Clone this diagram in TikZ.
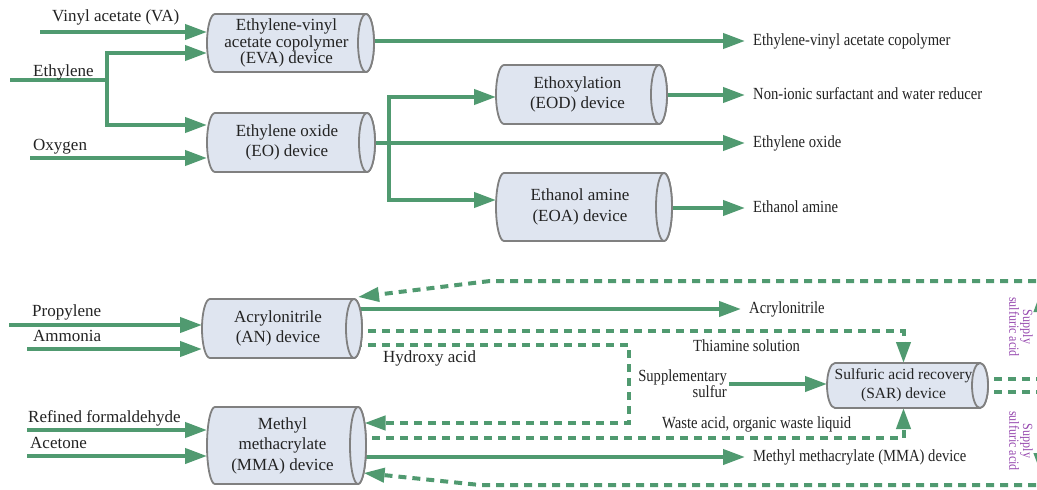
\documentclass[tikz,border=0pt]{standalone}
\usepackage{fontspec}
\setmainfont{Liberation Serif}
\newfontfamily\plainserif{Liberation Serif}
\newfontfamily\narrowserif[FakeStretch=0.86]{Liberation Serif}
\usetikzlibrary{arrows.meta}

\definecolor{flowgreen}{RGB}{80,154,112}
\definecolor{drumfill}{RGB}{223,229,240}
\definecolor{drumedge}{RGB}{128,128,128}
\definecolor{supplyviolet}{RGB}{150,72,175}
\definecolor{ink}{RGB}{35,35,35}

\pgfdeclarelayer{paper}
\pgfdeclarelayer{pipes}
\pgfdeclarelayer{drums}
\pgfsetlayers{paper,pipes,drums,main}

\tikzset{
  pipe/.style={draw=flowgreen, line width=4pt},
  flow/.style={pipe, -{Triangle[length=22pt,width=15pt]}},
  dpipe/.style={pipe, dash pattern=on 8pt off 6pt},
  dflow/.style={dpipe, -{Triangle[length=21pt,width=14pt]}},
  drumline/.style={draw=drumedge, fill=drumfill, line width=1.8pt},
  device/.style={inner sep=0pt, outer sep=0pt, align=center, text=ink,
    font=\plainserif\fontsize{17}{20.5}\selectfont},
  inlbl/.style={anchor=west, inner sep=0pt, text=ink,
    font=\plainserif\fontsize{17}{20}\selectfont, text height=11.5pt, text depth=3.5pt},
  outlbl/.style={anchor=west, inner xsep=8pt, inner ysep=0pt, text=ink,
    font=\narrowserif\fontsize{17}{20}\selectfont, text height=11.5pt, text depth=3.5pt},
  note/.style={inner sep=0pt, text=ink, font=\narrowserif\fontsize{17}{16}\selectfont},
  supply/.style={rotate=-90, align=center, inner sep=0pt, text=supplyviolet,
    font=\narrowserif\fontsize{14}{12}\selectfont},
}

% horizontal drum around a device node: #1 node name, #2 half height
\newcommand\drum[2]{%
  \begin{pgfonlayer}{drums}
    \draw[drumline] (#1.north east) -- ([xshift=8pt]#1.north west)
      arc[start angle=270, end angle=90, x radius=8, y radius=#2]
      -- (#1.south east)
      arc[start angle=90, end angle=-90, x radius=8, y radius=#2] -- cycle;
    \draw[drumline] (#1.east) ellipse[x radius=8, y radius=#2];
  \end{pgfonlayer}}

\begin{document}
\begin{tikzpicture}[x=1pt,y=-1pt]
\useasboundingbox (0,0) rectangle (1037,490);
\begin{pgfonlayer}{paper}
  \fill[white] (0,0) rectangle (1037,490);
\end{pgfonlayer}

% ---------- devices ----------
\node[device, minimum width=159, minimum height=58, font=\plainserif\fontsize{17}{16.5}\selectfont]
  (eva) at (286.5,43) {Ethylene-vinyl\\acetate copolymer\\(EVA) device};
\node[device, minimum width=160, minimum height=59] (eo) at (287,142.5) {Ethylene oxide\\(EO) device};
\node[device, minimum width=163, minimum height=59] (eod) at (577.5,94.5) {Ethoxylation\\(EOD) device};
\node[device, minimum width=168, minimum height=68] (eoa) at (580,207) {Ethanol amine\\(EOA) device};
\node[device, minimum width=152, minimum height=59] (an) at (278,328.5) {Acrylonitrile\\(AN) device};
\node[device, minimum width=151, minimum height=77] (mma) at (282.5,445.5) {Methyl\\methacrylate\\(MMA) device};
\node[device, minimum width=153, minimum height=45, font=\plainserif\fontsize{15.5}{19}\selectfont]
  (sar) at (903.5,385.5) {Sulfuric acid recovery\\(SAR) device};

\drum{eva}{29}
\drum{eo}{29.5}
\drum{eod}{29.5}
\drum{eoa}{34}
\drum{an}{29.5}
\drum{mma}{38.5}
\drum{sar}{22.5}

% ---------- feed labels ----------
\node[inlbl] (vaLbl) at (52,17) {Vinyl acetate (VA)};
\node[inlbl] (ethLbl) at (33,72) {Ethylene};
\node[inlbl] (oxLbl) at (33,146) {Oxygen};
\node[inlbl] (propLbl) at (32,312) {Propylene};
\node[inlbl] (ammLbl) at (33,337) {Ammonia};
\node[inlbl] (formLbl) at (28,418) {Refined formaldehyde};
\node[inlbl] (aceLbl) at (30,444) {Acetone};
\node[inlbl] (hyLbl) at (383,358) {Hydroxy acid};
\node[note, anchor=west] (thiaLbl) at (693,346) {Thiamine solution};
\node[note, anchor=west] (wasteLbl) at (662,424) {Waste acid, organic waste liquid};
\node[note, anchor=east, align=right] (suppLbl) at (727,384) {Supplementary\\sulfur};
\node[supply] (supTop) at (1021,327) {Supply\\sulfuric acid};
\node[supply] (supBot) at (1021,441) {Supply\\sulfuric acid};

% ---------- product labels ----------
\node[outlbl] (evaOut) at (745,41) {Ethylene-vinyl acetate copolymer};
\node[outlbl] (eodOut) at (745,95) {Non-ionic surfactant and water reducer};
\node[outlbl] (eoOut) at (745,143) {Ethylene oxide};
\node[outlbl] (eoaOut) at (745,208) {Ethanol amine};
\node[outlbl] (anOut) at (741,309) {Acrylonitrile};
\node[outlbl] (mmaOut) at (745,457) {Methyl methacrylate (MMA) device};

% ---------- pipes ----------
\begin{pgfonlayer}{pipes}
  % ethylene block
  \coordinate (vaIn) at (40,32);
  \draw[flow] (vaIn) -- (vaIn -| eva.west);
  \coordinate (ethIn) at (10,80);
  \coordinate (ethFork) at (107,80);
  \draw[pipe] (ethIn) -- (ethFork);
  \draw[flow] (ethFork) |- ([yshift=-10pt]eva.west);
  \draw[flow] (ethFork) |- ([yshift=17.5pt]eo.west);
  \coordinate (oxIn) at (30,158);
  \draw[flow] (oxIn) -- (oxIn -| eo.west);

  \draw[flow] (evaOut.west -| eva.east) -- (evaOut.west);
  \draw[flow] (eoOut.west -| eo.east) -- (eoOut.west);
  \coordinate (eoFork) at (389,143);
  \draw[flow] (eoFork) |- ([yshift=-2.5pt]eod.west);
  \draw[flow] (eoFork) |- ([yshift=7pt]eoa.west);
  \draw[flow] (eodOut.west -| eod.east) -- (eodOut.west);
  \draw[flow] (eoaOut.west -| eoa.east) -- (eoaOut.west);

  % propylene block
  \coordinate (propIn) at (9,325);
  \draw[flow] (propIn) -- (propIn -| an.west);
  \coordinate (ammIn) at (27,349);
  \draw[flow] (ammIn) -- (ammIn -| an.west);
  \draw[flow] (anOut.west -| an.east) -- (anOut.west);

  \coordinate (formIn) at (27,430);
  \draw[flow] (formIn) -- (formIn -| mma.west);
  \coordinate (aceIn) at (27,456);
  \draw[flow] (aceIn) -- (aceIn -| mma.west);
  \draw[flow] (mmaOut.west -| mma.east) -- (mmaOut.west);

  % acid circuit
  \draw[dflow] ([yshift=-2.5pt]an.east) -| (sar.north);
  \coordinate (hyDrop) at (629,423);
  \draw[dflow] ([yshift=-16.5pt]an.east) -| (hyDrop) -- ([xshift=6.5pt,yshift=22.5pt]mma.east);
  \draw[dflow] ([yshift=7.5pt]mma.east) -| (sar.south);
  \draw[flow] ([xshift=2pt]suppLbl.east) -- (suppLbl.east -| sar.west);

  \coordinate (supplyUp) at (1041,291);
  \coordinate (supplyDown) at (1041,474);
  \draw[dflow] ([yshift=6.5pt]sar.east) -| (supplyUp);
  \draw[dflow] ([yshift=-6.5pt]sar.east) -| (supplyDown);

  \coordinate (topEnd) at (1050,281);
  \coordinate (topBend) at (490,281);
  \draw[dflow] (topEnd) -- (topBend) -- ([xshift=4pt,yshift=31.5pt]an.east);
  \coordinate (botEnd) at (1050,485);
  \coordinate (botBend) at (480,485);
  \draw[dflow] (botEnd) -- (botBend) -- ([xshift=5.6pt,yshift=-27.5pt]mma.east);
\end{pgfonlayer}
\end{tikzpicture}
\end{document}
